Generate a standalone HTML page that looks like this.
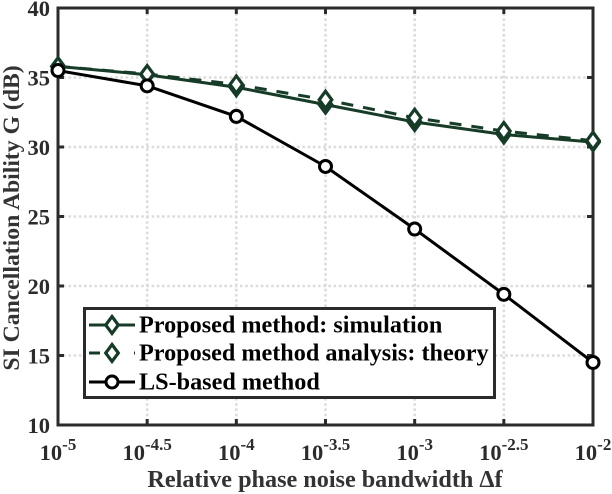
<!DOCTYPE html>
<html lang="en">
<head>
<meta charset="utf-8">
<title>SI Cancellation Ability Chart</title>
<style>
html,body{margin:0;padding:0;background:#fff;}
svg{display:block;font-family:"Liberation Serif",serif;font-weight:bold;}
</style>
</head>
<body>
<svg id="chart" width="612" height="494" viewBox="0 0 612 494" xmlns="http://www.w3.org/2000/svg"></svg>
<script>
const xExponents = ['-5', '-4.5', '-4', '-3.5', '-3', '-2.5', '-2'];
const yTicks = [10, 15, 20, 25, 30, 35, 40];
const simulationValues = [35.8, 35.2, 34.3, 33.05, 31.8, 30.9, 30.35];
const theoryValues = [35.8, 35.25, 34.5, 33.4, 32.1, 31.15, 30.45];
const lsValues = [35.5, 34.4, 32.2, 28.6, 24.1, 19.4, 14.5];
const legendLabels = ['Proposed method: simulation', 'Proposed method analysis: theory', 'LS-based method'];
const xAxisTitle = 'Relative phase noise bandwidth Δf';
const yAxisTitle = 'SI Cancellation Ability G (dB)';

const svg = document.getElementById('chart');
const NS = 'http://www.w3.org/2000/svg';
const GREEN = '#163c28';
const AXIS = '#2b2b2b';
const plot = {left: 58, right: 593, top: 8, bottom: 425};

function xScale(i) {
  return plot.left + (plot.right - plot.left) * i / (xExponents.length - 1);
}
function yScale(v) {
  return plot.bottom - (plot.bottom - plot.top) * (v - 10) / 30;
}
function make(tag, attrs, parent) {
  const el = document.createElementNS(NS, tag);
  for (const k in attrs) el.setAttribute(k, attrs[k]);
  (parent || svg).appendChild(el);
  return el;
}
function diamondPoints(cx, cy) {
  return [[cx, cy - 8.5], [cx + 6.3, cy], [cx, cy + 8.5], [cx - 6.3, cy]].map(p => p.join(',')).join(' ');
}
function linePoints(values) {
  return values.map((v, i) => xScale(i) + ',' + yScale(v)).join(' ');
}

/* grid */
const gridGroup = make('g', {});


xExponents.forEach((e, i) => {
  if (i === 0 || i === xExponents.length - 1) return;
  const g = make('line', {x1: xScale(i), x2: xScale(i), y1: plot.top, y2: plot.bottom, stroke: '#dcdcdc', 'stroke-width': 2.6, 'stroke-dasharray': '2.6 2.6'}, gridGroup);
  
  
});
yTicks.forEach((t, i) => {
  if (i === 0 || i === yTicks.length - 1) return;
  const g = make('line', {x1: plot.left, x2: plot.right, y1: yScale(t), y2: yScale(t), stroke: '#dcdcdc', 'stroke-width': 2.6, 'stroke-dasharray': '2.6 2.6'}, gridGroup);
  
  
});

/* axes and ticks */
const axisBox = make('rect', {x: plot.left, y: plot.top, width: plot.right - plot.left, height: plot.bottom - plot.top, fill: 'none', stroke: AXIS, 'stroke-width': 3});



xExponents.forEach((e, i) => {
  const x = xScale(i);
  [[plot.bottom, plot.bottom - 6], [plot.top, plot.top + 6]].forEach(p => {
    const tick = make('line', {x1: x, x2: x, y1: p[0], y2: p[1], stroke: AXIS, 'stroke-width': 3});
    
    
  });
  const label = make('text', {x: x, y: 460, 'text-anchor': 'middle', fill: '#2b2b2b', 'font-size': 22.5});
  
  
  const base = make('tspan', {}, label);
  base.textContent = '10';
  const exp = make('tspan', {dy: -10, 'font-size': 17}, label);
  exp.textContent = e;
});

yTicks.forEach(t => {
  const y = yScale(t);
  [[plot.left, plot.left + 6], [plot.right, plot.right - 6]].forEach(p => {
    const tick = make('line', {x1: p[0], x2: p[1], y1: y, y2: y, stroke: AXIS, 'stroke-width': 3});
    
    
  });
  const label = make('text', {x: 50, y: y + 8, 'text-anchor': 'end', fill: '#2b2b2b', 'font-size': 22.5});
  
  
  label.textContent = t;
});

/* axis titles */
const xTitle = make('text', {x: 325, y: 487, 'text-anchor': 'middle', fill: '#333', 'font-size': 24.2});


xTitle.textContent = xAxisTitle;

const yTitle = make('text', {x: 0, y: 0, transform: 'translate(19,218) rotate(-90)', 'text-anchor': 'middle', fill: '#333', 'font-size': 23.7});


yTitle.textContent = yAxisTitle;

/* series */
const simGroup = make('g', {});


const theoryGroup = make('g', {});


const lsGroup = make('g', {});



make('polyline', {points: linePoints(simulationValues), fill: 'none', stroke: GREEN, 'stroke-width': 3}, simGroup);
simulationValues.forEach((v, i) => {
  const m = make('polygon', {points: diamondPoints(xScale(i), yScale(v)), fill: '#fff', stroke: GREEN, 'stroke-width': 3.2}, simGroup);
  
  
});
make('polyline', {points: linePoints(theoryValues), fill: 'none', stroke: GREEN, 'stroke-width': 3, 'stroke-dasharray': '12 10'}, theoryGroup);
theoryValues.forEach((v, i) => {
  const m = make('polygon', {points: diamondPoints(xScale(i), yScale(v)), fill: '#fff', stroke: GREEN, 'stroke-width': 3.2}, theoryGroup);
  
  
});
make('polyline', {points: linePoints(lsValues), fill: 'none', stroke: '#000', 'stroke-width': 3}, lsGroup);
lsValues.forEach((v, i) => {
  const m = make('circle', {cx: xScale(i), cy: yScale(v), r: 6, fill: '#fff', stroke: '#000', 'stroke-width': 3}, lsGroup);
  
  
});

/* legend */
const legend = make('g', {});


make('rect', {x: 84.5, y: 308.5, width: 410, height: 89, fill: '#fff', stroke: AXIS, 'stroke-width': 3}, legend);
const rowY = [325, 353, 382];
legendLabels.forEach((name, i) => {
  const y = rowY[i];
  const color = i === 2 ? '#000' : GREEN;
  const sample = make('line', {x1: 89, x2: 135, y1: y, y2: y, stroke: color, 'stroke-width': 3}, legend);
  
  
  if (i === 1) sample.setAttribute('stroke-dasharray', '11 34');
  let marker;
  if (i === 2) {
    marker = make('circle', {cx: 112, cy: y, r: 6, fill: '#fff', stroke: color, 'stroke-width': 3}, legend);
  } else {
    marker = make('polygon', {points: diamondPoints(112, y), fill: '#fff', stroke: color, 'stroke-width': 3.2}, legend);
  }
  
  
  const label = make('text', {x: 139, y: y + 7.5, fill: '#000', 'font-size': 24.2}, legend);
  
  
  label.textContent = name;
});
</script>
</body>
</html>
